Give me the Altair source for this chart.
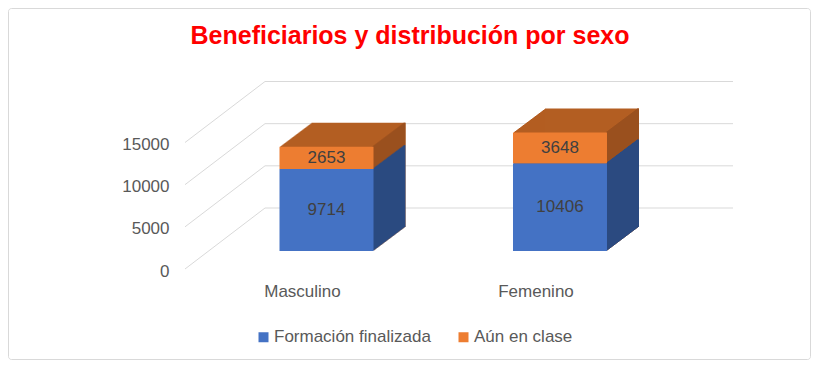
import altair as alt
import pandas as pd

# ---- data ----
sexos = ["Masculino", "Femenino"]
series = ["Formación finalizada", "Aún en clase"]
formacion_finalizada = [9714, 10406]
aun_en_clase = [2653, 3648]
y_ticks = [0, 5000, 10000, 15000]
titulo = "Beneficiarios y distribución por sexo"

# ---- styles ----
FONT = "Liberation Sans"
FRONT = ["#4472C4", "#ED7D31"]
SIDE = ["#2B4A80", "#9A501E"]
TOP = "#B35E22"
GRID = "#D9D9D9"
TXT = "#595959"
BAR_W = 94
DEPTH = 32          # px to the right
SLOPE = 0.75        # px up per px right

rows = []
for i, s in enumerate(sexos):
    rows.append({"sexo": s, "serie": series[0], "valor": formacion_finalizada[i], "orden": 0})
    rows.append({"sexo": s, "serie": series[1], "valor": aun_en_clase[i], "orden": 1})
df = pd.DataFrame(rows)
ticks_df = pd.DataFrame({"v": y_ticks})

side_names = [s + " (lado)" for s in series]
color_scale = alt.Scale(domain=series + side_names, range=FRONT + SIDE)

y_scale = alt.Scale(domain=[0, 15000], nice=False, zero=True)
y_axis = alt.Axis(title=None, values=y_ticks, grid=False, domain=False, ticks=False,
                  labelPadding=16, labelOffset=20, labelFontSize=17, labelFont=FONT,
                  labelColor=TXT, format="d")
x_enc = alt.X("sexo:N", sort=sexos,
              scale=alt.Scale(paddingInner=0, paddingOuter=0.106),
              axis=alt.Axis(title=None, labelOffset=-24, labelPadding=32, domain=False,
                            ticks=False, labelFontSize=17, labelFont=FONT, labelColor=TXT,
                            labelAngle=0))
legend = alt.Legend(title=None, orient="none", legendX=70, legendY=204, values=series,
                    direction="horizontal", symbolType="square", symbolSize=100,
                    symbolStrokeWidth=0, labelFontSize=17, labelFont=FONT,
                    labelColor=TXT, columnPadding=24, labelOffset=2, padding=0)

stacked = alt.Chart(df).transform_stack(
    stack="valor", groupby=["sexo"], as_=["y0", "y1"], sort=[alt.SortField("orden")]
)

layers = []

# frame
layers.append(
    alt.Chart(pd.DataFrame({"a": [0]})).mark_rect(
        fillOpacity=0, stroke=GRID, strokeWidth=1, cornerRadius=3
    ).encode(x=alt.value(-176.5), x2=alt.value(625.5), y=alt.value(-116), y2=alt.value(235))
)

# title
layers.append(
    alt.Chart(pd.DataFrame({"t": [titulo]})).mark_text(
        fontSize=25, fontWeight="bold", color="#FF0000", font=FONT,
        align="center", baseline="alphabetic"
    ).encode(text="t:N", x=alt.value(225), y=alt.value(-80.5))
)

# back wall gridlines
layers.append(
    alt.Chart(ticks_df).mark_rule(color=GRID, strokeWidth=1, yOffset=-43).encode(
        y=alt.Y("v:Q", scale=y_scale, axis=y_axis), x=alt.value(80), x2=alt.value(548)
    )
)
# side wall diagonals
layers.append(
    alt.Chart(ticks_df).mark_rule(color=GRID, strokeWidth=1, yOffset=18, y2Offset=-43).encode(
        y=alt.Y("v:Q", scale=y_scale, axis=y_axis), y2=alt.Y2("v:Q"),
        x=alt.value(0), x2=alt.value(80)
    )
)

# extruded silhouette (top colour)
for k in range(1, DEPTH + 1):
    layers.append(
        alt.Chart(df).transform_aggregate(total="sum(valor)", groupby=["sexo"]).mark_bar(
            width=BAR_W, color=TOP, xOffset=k, yOffset=-SLOPE * k, y2Offset=-SLOPE * k
        ).encode(x=x_enc, y=alt.Y("total:Q", scale=y_scale, axis=y_axis), y2=alt.datum(0))
    )

# side faces
for k in range(1, DEPTH + 1):
    layers.append(
        stacked.transform_calculate(cara="datum.serie + ' (lado)'").mark_bar(
            width=2, xOffset=BAR_W / 2 + k - 1, yOffset=-SLOPE * k, y2Offset=-SLOPE * k
        ).encode(
            x=x_enc,
            y=alt.Y("y1:Q", scale=y_scale, axis=y_axis), y2="y0:Q",
            color=alt.Color("cara:N", scale=color_scale, legend=legend),
        )
    )

# front faces
layers.append(
    stacked.mark_bar(width=BAR_W).encode(
        x=x_enc,
        y=alt.Y("y1:Q", scale=y_scale, axis=y_axis), y2="y0:Q",
        color=alt.Color("serie:N", scale=color_scale, legend=legend),
    )
)

# data labels
layers.append(
    stacked.transform_calculate(mid="(datum.y0 + datum.y1) / 2").mark_text(
        fontSize=17, font=FONT, color="#404040"
    ).encode(x=x_enc, y=alt.Y("mid:Q", scale=y_scale, axis=y_axis), text="valor:Q")
)

chart = alt.layer(*layers).properties(
    width=516.5, height=126.5,
    autosize=alt.AutoSizeParams(type="none"),
    padding={"left": 177, "top": 116.5, "right": 109.5, "bottom": 109},
    background="white",
).configure_view(stroke=None)

chart.save("out.html", embed_options={"renderer": "svg", "actions": False})
